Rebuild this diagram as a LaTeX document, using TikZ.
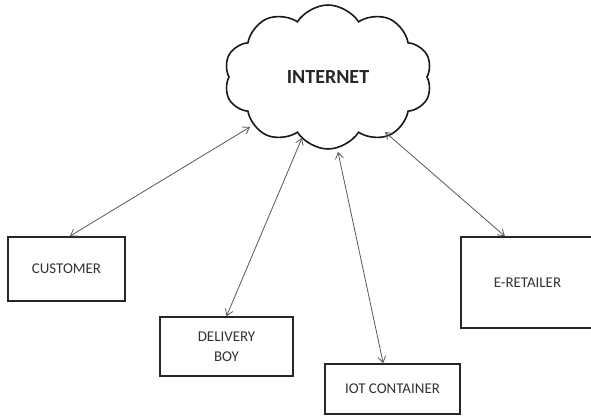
\documentclass[tikz,border=0pt]{standalone}
\usepackage{fontspec}
\setmainfont{Carlito}
\usetikzlibrary{shapes.symbols,arrows.meta,calc}
\tikzset{
  boxnode/.style={draw=black!85, line width=1.2pt, text=black!80, font=\fontsize{11.2}{14}\selectfont, align=center, inner sep=0pt},
  link/.style={draw=black!65, line width=0.6pt, {Straight Barb[length=4.5pt,width=6pt]}-{Straight Barb[length=4.5pt,width=6pt]}}
}
\begin{document}
\begin{tikzpicture}[x=0.75pt,y=-0.75pt]
\useasboundingbox (0,0) rectangle (591,416);
\fill[white] (0,0) rectangle (591,416);
\node[cloud, draw=black!90, line width=1.2pt, cloud puffs=10, cloud puff arc=115, cloud ignores aspect, minimum width=156pt, minimum height=108pt, inner sep=0pt, font=\fontsize{15}{18}\selectfont\bfseries, text=black!85] (net) at (328,77) {INTERNET};
\node[boxnode, minimum width=87.75pt, minimum height=48pt] (cust) at (66.5,269) {CUSTOMER};
\node[boxnode, minimum width=99.75pt, minimum height=44.25pt] (deliv) at (226.5,346.5) {DELIVERY\\[1pt]BOY};
\node[boxnode, minimum width=101.25pt, minimum height=37.5pt] (iot) at (392.5,389) {IOT CONTAINER};
\node[boxnode, minimum width=99.75pt, minimum height=68.25pt] (eret) at (527.5,282.5) {E-RETAILER};
\coordinate (c1) at ($(net.center)+(-78,50)$);
\coordinate (c2) at ($(net.center)+(-26,61)$);
\coordinate (c3) at ($(net.center)+(10,75)$);
\coordinate (c4) at ($(net.center)+(57,55)$);
\draw[link] ([xshift=2.5pt]cust.north) -- (c1);
\draw[link] (deliv.north) -- (c2);
\draw[link] ([xshift=-7pt]iot.north) -- (c3);
\draw[link] ([xshift=-17pt]eret.north) -- (c4);
\end{tikzpicture}
\end{document}
